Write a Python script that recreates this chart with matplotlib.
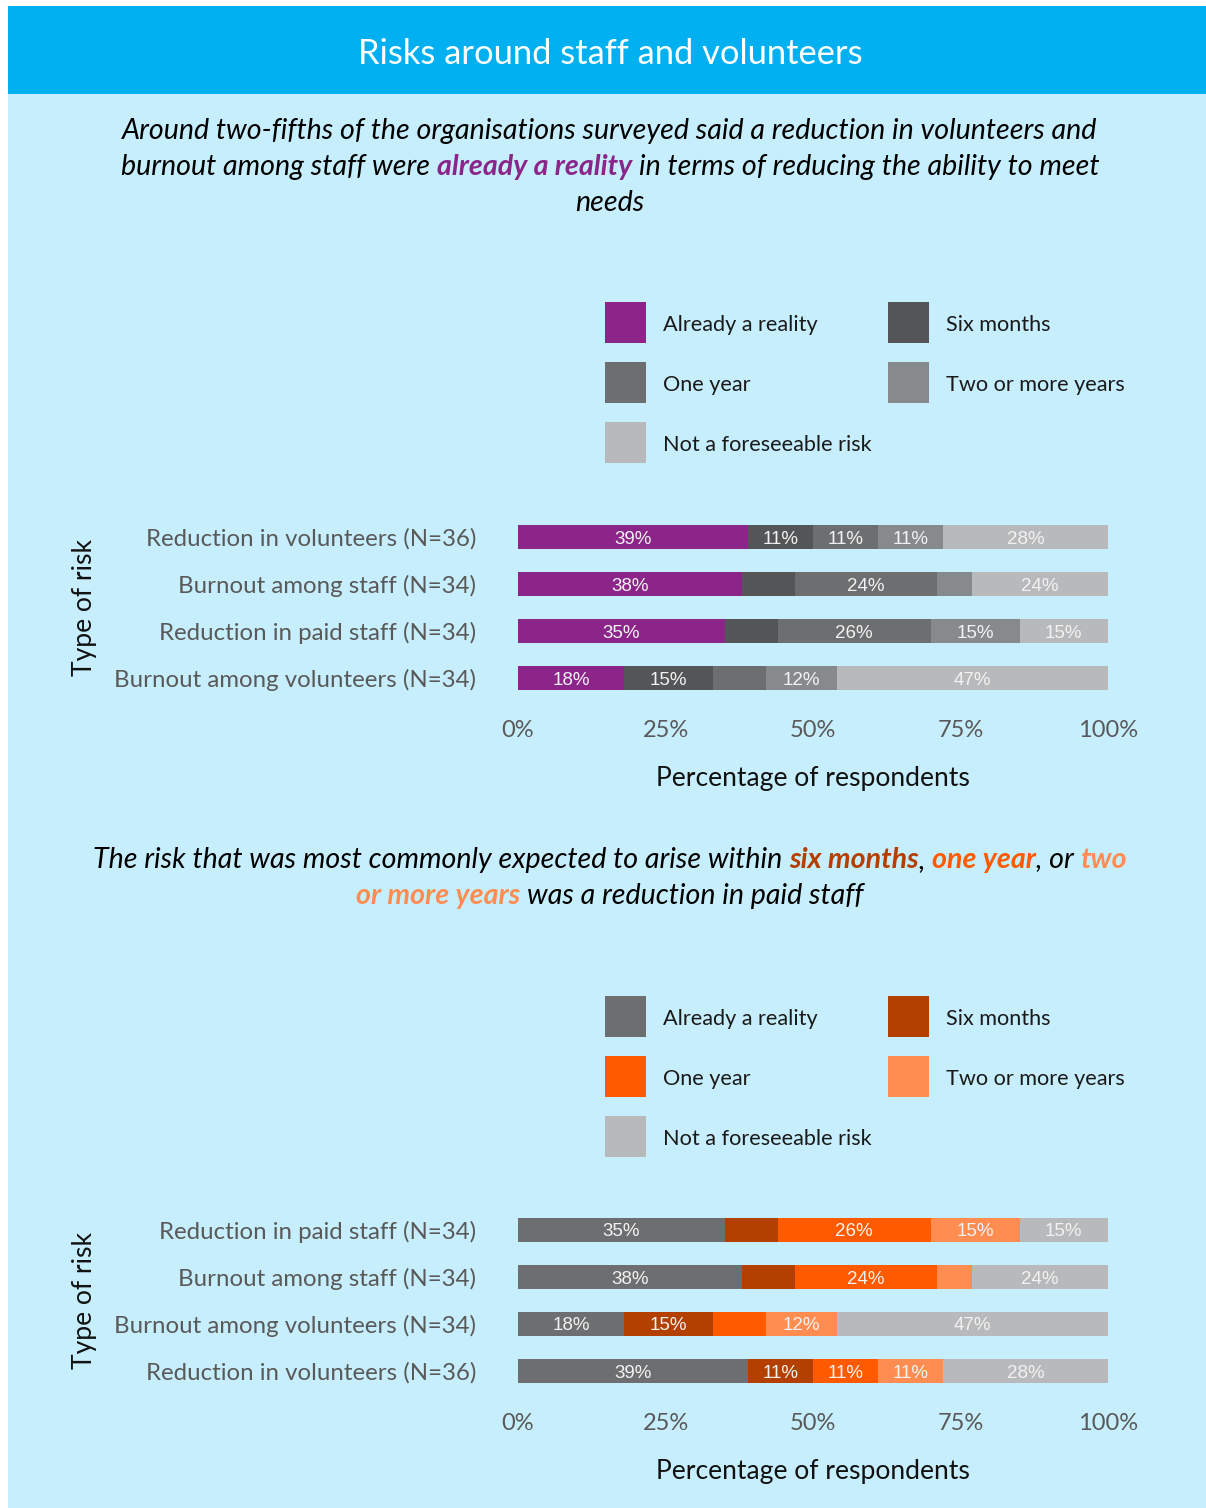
import matplotlib
matplotlib.use("Agg")
import matplotlib.pyplot as plt
from matplotlib.patches import Rectangle
import numpy as np

W, H = 1206, 1508

bands = ["Already a reality", "Six months", "One year", "Two or more years", "Not a foreseeable risk"]

top_risks = ["Reduction in volunteers (N=36)", "Burnout among staff (N=34)",
             "Reduction in paid staff (N=34)", "Burnout among volunteers (N=34)"]
top_values = np.array([[39, 11, 11, 11, 28],
                       [38, 9, 24, 6, 24],
                       [35, 9, 26, 15, 15],
                       [18, 15, 9, 12, 47]])

bottom_risks = ["Reduction in paid staff (N=34)", "Burnout among staff (N=34)",
                "Burnout among volunteers (N=34)", "Reduction in volunteers (N=36)"]
bottom_values = np.array([[35, 9, 26, 15, 15],
                          [38, 9, 24, 6, 24],
                          [18, 15, 9, 12, 47],
                          [39, 11, 11, 11, 28]])

top_colors = ["#8B2589", "#545557", "#6D6E70", "#878A8C", "#B8B9BB"]
bottom_colors = ["#6D6E70", "#B33F00", "#FF5A00", "#FF8C50", "#B8B9BB"]

ticks = [0, 25, 50, 75, 100]
tick_labels = ["0%", "25%", "50%", "75%", "100%"]

FONT = "Lato"
BG = "#C7EEFC"


def fx(x):
    return x / W


def fy(y):
    return 1 - y / H


fig = plt.figure(figsize=(W / 100, H / 100), dpi=100, facecolor="white")

# page background and header band
fig.patches.append(Rectangle((fx(8), 0), 1 - fx(8), fy(94), transform=fig.transFigure,
                             facecolor=BG, edgecolor="none", zorder=-2))
fig.patches.append(Rectangle((fx(8), fy(94)), 1 - fx(8), fy(6) - fy(94), transform=fig.transFigure,
                             facecolor="#00B0F0", edgecolor="none", zorder=-2))
fig.text(fx(610), fy(53.5), "Risks around staff and volunteers", color="white", fontsize=24.8,
         family=FONT, ha="center", va="center")

renderer = fig.canvas.get_renderer()


def rich_line(y, parts, size=20.6, cx=610):
    """Centre a line made of differently coloured pieces."""
    probe = fig.text(0, 0, "a a", fontsize=size, family=FONT, style="italic")
    w_sp = probe.get_window_extent(renderer).width
    probe.set_text("aa")
    w_sp -= probe.get_window_extent(renderer).width
    probe.remove()
    x = 0
    placed = []
    for text, color, weight in parts:
        core = text.strip(" ")
        x += (len(text) - len(text.lstrip(" "))) * w_sp
        t = fig.text(0, fy(y + 2), core, color=color, fontsize=size, family=FONT,
                     style="italic", weight=weight, ha="left", va="center")
        placed.append((t, x))
        x += t.get_window_extent(renderer).width
        x += (len(text) - len(text.rstrip(" "))) * w_sp
    start = cx - x / 2
    for t, off in placed:
        t.set_x(fx(start + off))


def legend(y0, colors):
    slots = [(605, 0), (888, 0), (605, 1), (888, 1), (605, 2)]
    for (x, row), band, color in zip(slots, bands, colors):
        yc = y0 + row * 60
        fig.patches.append(Rectangle((fx(x), fy(yc + 20.5)), 41 / W, 41 / H,
                                     transform=fig.transFigure, facecolor=color,
                                     edgecolor="none"))
        fig.text(fx(x + 58), fy(yc + 2.5), band, fontsize=15.6, family=FONT, color="#1A1A1A",
                 ha="left", va="center")


def panel(top, bottom, risks, values, colors):
    ax = fig.add_axes([fx(518), fy(bottom), (1108 - 518) / W, (bottom - top) / H])
    ax.set_facecolor("none")
    y = np.arange(len(risks))
    left = np.zeros(len(risks))
    for j in range(len(bands)):
        v = values[:, j]
        bars = ax.barh(y, v, left=left, height=0.49, color=colors[j], linewidth=0)
        labels = ax.bar_label(bars, labels=[f"{val}%" if val >= 10 else "" for val in v],
                              label_type="center", color="#F2F2F2", fontsize=13.5,
                              family="Liberation Sans")
        for lab in labels:
            lab.set_va("center_baseline")
        left += v
    ax.set_xlim(0, 100)
    ax.set_ylim(len(risks) - 0.5, -0.5)
    for s in ax.spines.values():
        s.set_visible(False)
    ax.set_yticks(y, risks)
    ax.set_xticks(ticks, tick_labels)
    ax.tick_params(axis="y", length=0, pad=30, labelsize=17.3, labelcolor="#595959")
    ax.tick_params(axis="x", length=0, pad=13, labelsize=17, labelcolor="#595959")
    for lab in ax.get_xticklabels() + ax.get_yticklabels():
        lab.set_family(FONT)
    ax.set_xlabel("Percentage of respondents", fontsize=19.1, family=FONT, color="#111111")
    ax.xaxis.label.set_va("center")
    ax.set_ylabel("Type of risk", fontsize=19.1, family=FONT, color="#111111")
    ax.yaxis.set_label_coords(-(518 - 84) / 590, 0.5)
    ax.yaxis.label.set_va("center")
    return ax


# upper panel
rich_line(129, [("Around two-fifths of the organisations surveyed said a reduction in volunteers and", "black", "normal")])
rich_line(165, [("burnout among staff were ", "black", "normal"),
                ("already a reality", "#8B2589", "bold"),
                (" in terms of reducing the ability to meet", "black", "normal")])
rich_line(201, [("needs", "black", "normal")])
legend(322.5, top_colors)
ax1 = panel(513.5, 701.5, top_risks, top_values, top_colors)
ax1.xaxis.set_label_coords(0.5, -(778 - 701.5) / 188)

# lower panel
rich_line(858, [("The risk that was most commonly expected to arise within ", "black", "normal"),
                ("six months", "#B33F00", "bold"),
                (", ", "black", "normal"),
                ("one year", "#FF5A00", "bold"),
                (", or ", "black", "normal"),
                ("two", "#FF8C50", "bold")])
rich_line(894, [("or more years", "#FF8C50", "bold"),
                (" was a reduction in paid staff", "black", "normal")])
legend(1016.5, bottom_colors)
ax2 = panel(1206.5, 1394.5, bottom_risks, bottom_values, bottom_colors)
ax2.xaxis.set_label_coords(0.5, -(1471 - 1394.5) / 188)

fig.savefig("out.png", dpi=100, facecolor="white")
